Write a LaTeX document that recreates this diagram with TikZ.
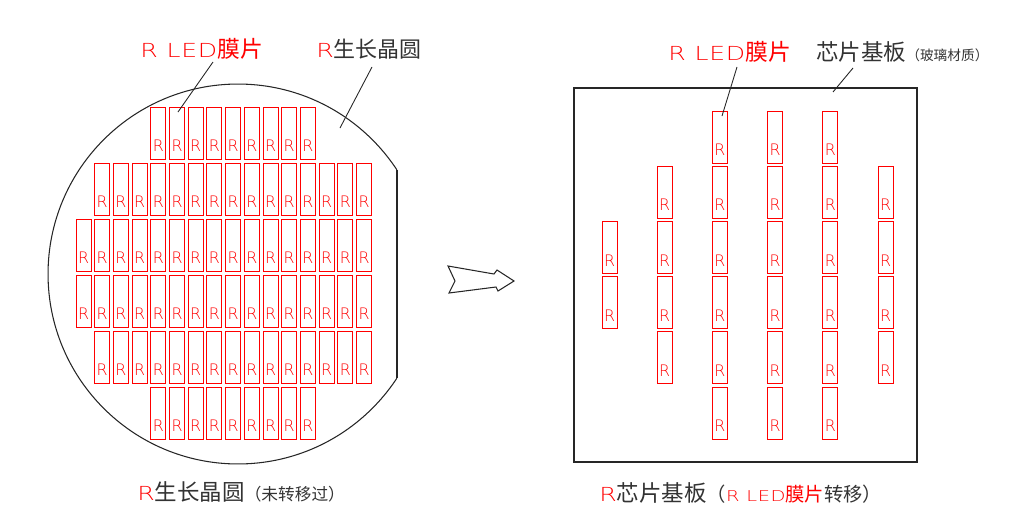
\documentclass[tikz,border=0pt]{standalone}
\usepackage{fontspec}
\newfontfamily\cjk{Noto Sans CJK SC}
\newfontfamily\cad[FakeStretch=1.3,LetterSpace=4]{DejaVu Sans ExtraLight}
\newfontfamily\latin{DejaVu Sans ExtraLight}
\usetikzlibrary{positioning}

\begin{document}
\begin{tikzpicture}[
    x=0.02cm,y=-0.02cm,
    chip/.style={draw=red,line width=0.5pt},
    rmark/.style={text=red,inner sep=0pt,font=\latin\fontsize{9}{10}\selectfont},
    outline/.style={draw=black!85,line width=0.6pt},
    leader/.style={draw=black!85,line width=0.5pt},
    labelnode/.style={inner sep=0pt,anchor=west,text=black!80}
  ]
  \useasboundingbox (0,0) rectangle (1024,531);

  % 晶圆外形（右侧切边）
  \begin{scope}
    \clip (0,0) rectangle (397,531);
    \draw[outline] (238,274) circle (3.8cm);
  \end{scope}
  \draw[outline] (397,170)--(397,378);

  % 晶圆上的 R LED 膜片
  \foreach \r/\a/\b in {0/4/12,1/1/15,2/0/15,3/0/15,4/1/15,5/4/12} {
    \foreach \k in {\a,...,\b} {
      \draw[chip] ({76+18.7*\k},{107+56*\r}) rectangle ++(15,52);
      \node[rmark] (w\r-\k) at ({83.5+18.7*\k},{146+56*\r}) {R};
    }
  }

  % 转移箭头
  \draw[outline,line join=miter] (448,266)--(494,274)--(497,270)--(514,281)
    --(498,291)--(496,287)--(449,293)--(455,281)--cycle;

  % 芯片基板与转移后的膜片
  \draw[outline,line width=0.8pt] (574,88) rectangle (917,462);
  \foreach \c/\a/\b in {0/2/3,1/1/4,2/0/5,3/0/5,4/0/5,5/1/4} {
    \foreach \r in {\a,...,\b} {
      \draw[chip] ({602+55.2*\c},{111+55.2*\r}) rectangle ++(15,52);
      \node[rmark] (s\c-\r) at ({609.5+55.2*\c},{150+55.2*\r}) {R};
    }
  }

  % 左侧标注
  \node[labelnode,text=red] (ledA) at (140,49)
    {\cad\fontsize{11}{13}\selectfont R LED\cjk\fontsize{13}{15}\selectfont 膜片};
  \node[labelnode] (waferA) at (316,49)
    {\textcolor{red}{\cad\fontsize{11}{13}\selectfont R}\cjk\fontsize{12.5}{14}\selectfont 生长晶圆};
  \coordinate (ledAend) at (213,62);
  \coordinate (ledAtip) at (178,112);
  \coordinate (waferAend) at (372,67);
  \coordinate (waferAtip) at (340,128);
  \draw[leader] (ledAend)--(ledAtip);
  \draw[leader] (waferAend)--(waferAtip);
  \node[labelnode] (capA) at (137,492)
    {\textcolor{red}{\cad\fontsize{11}{13}\selectfont R}\cjk\fontsize{12.8}{14}\selectfont 生长晶圆\fontsize{9.5}{11}\selectfont （未转移过）};

  % 右侧标注
  \node[labelnode,text=red] (ledB) at (668,52)
    {\cad\fontsize{11}{13}\selectfont R LED\cjk\fontsize{13}{15}\selectfont 膜片};
  \node[labelnode] (boardB) at (816,52)
    {\cjk\fontsize{12.8}{14}\selectfont 芯片基板\fontsize{7.8}{9}\selectfont （玻璃材质）};
  \coordinate (ledBend) at (737,67);
  \coordinate (ledBtip) at (722,116);
  \coordinate (boardBend) at (853,68);
  \coordinate (boardBtip) at (833,92);
  \draw[leader] (ledBend)--(ledBtip);
  \draw[leader] (boardBend)--(boardBtip);
  \node[labelnode] (capB) at (599,493)
    {\textcolor{red}{\cad\fontsize{11}{13}\selectfont R}\cjk\fontsize{12.8}{14}\selectfont 芯片基板\fontsize{11}{13}\selectfont （\textcolor{red}{\cad\fontsize{8.5}{10}\selectfont R LED\cjk\fontsize{11}{13}\selectfont 膜片}转移）};
\end{tikzpicture}
\end{document}
